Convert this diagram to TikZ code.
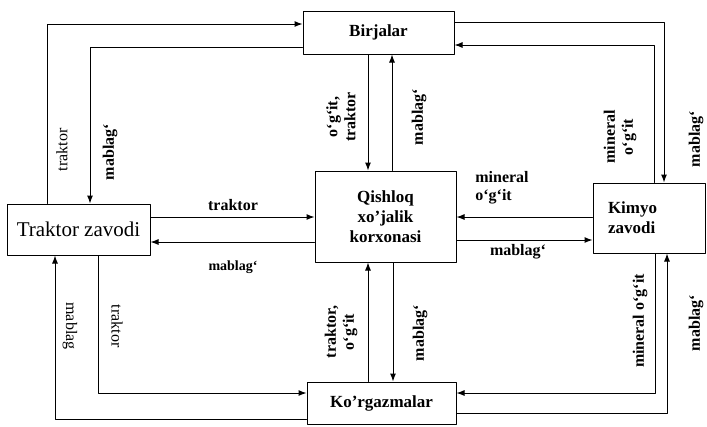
\documentclass[tikz,border=0pt]{standalone}
\usepackage{fontspec}
\setmainfont{Liberation Serif}
\usetikzlibrary{arrows.meta}
\begin{document}
\begin{tikzpicture}[x=1pt, y=-1pt, line cap=round, line join=round,
	box/.style={draw, line width=1pt, inner sep=0pt, font=\bfseries\fontsize{17}{20}\selectfont},
	arr/.style={line width=1pt, -{Latex[length=8pt,width=6pt]}},
	lbl/.style={font=\bfseries\fontsize{16}{18}\selectfont, inner sep=0pt, align=center},
	lbr/.style={font=\fontsize{16}{18}\selectfont, inner sep=0pt}]
	\useasboundingbox (0,0) rectangle (707,426);
	\node[box, minimum width=151pt, minimum height=43pt] (bir) at (378.5,32.5) {Birjalar};
	\node[box, minimum width=141pt, minimum height=91pt, align=center] (qsh) at (385.5,216.5) {Qishloq\\xo'jalik\\korxonasi};
	\node[box, minimum width=143pt, minimum height=51pt, font=\fontsize{21}{24}\selectfont] (trz) at (78.5,229.5) {Traktor zavodi};
	\node[box, text width=82pt, inner xsep=15pt, minimum height=70pt, align=left] (kim) at (649,218) {Kimyo\\zavodi};
	\node[box, minimum width=149pt, minimum height=42pt] (kor) at (381.5,403) {Ko'rgazmalar};

	\draw [arr] ([xshift=-31.5pt]trz.north) |- ([yshift=8.5pt]bir.west);
	\draw [arr] ([yshift=-14.5pt]bir.west) -| ([xshift=11.5pt]trz.north);
	\draw [arr] ([yshift=10.5pt]bir.east) -| ([xshift=15pt]kim.north);
	\draw [arr] ([xshift=5pt]kim.north) |- ([yshift=-12.5pt]bir.east);
	\draw [arr] ([xshift=-10.5pt]bir.south) -- ([xshift=-10.5pt]bir.south |- qsh.north);
	\draw [arr] ([xshift=13.5pt]bir.south |- qsh.north) -- ([xshift=13.5pt]bir.south);
	\draw [arr] ([yshift=12.5pt]trz.east) -- ([yshift=12.5pt]trz.east -| qsh.west);
	\draw [arr] ([yshift=-12.5pt]trz.east -| qsh.west) -- ([yshift=-12.5pt]trz.east);
	\draw [arr] ([yshift=1pt]kim.west) -- ([yshift=1pt]kim.west -| qsh.east);
	\draw [arr] ([yshift=-23.5pt]qsh.east) -- ([yshift=-23.5pt]qsh.east -| kim.west);
	\draw [arr] ([xshift=-13.5pt]kor.north) -- ([xshift=-13.5pt]kor.north |- qsh.south);
	\draw [arr] ([xshift=11.5pt]kor.north |- qsh.south) -- ([xshift=11.5pt]kor.north);
	\draw [arr] ([xshift=19.5pt]trz.south) |- ([yshift=10pt]kor.west);
	\draw [arr] ([yshift=-16pt]kor.west) -| ([xshift=-23.5pt]trz.south);
	\draw [arr] ([xshift=6pt]kim.south) |- ([yshift=10pt]kor.east);
	\draw [arr] ([yshift=-10pt]kor.east) -| ([xshift=18pt]kim.south);

	\node[lbr, rotate=90] (tr1) at (62,150) {traktor};
	\node[lbl, rotate=90] (mb1) at (110,152) {mablag`};
	\node[lbl, rotate=90] (og1) at (341,117) {o`g`it,\\traktor};
	\node[lbl, rotate=90] (mb2) at (419,117) {mablag`};
	\node[lbl, rotate=90] (mn1) at (620,137) {mineral\\o`g`it};
	\node[lbl, rotate=90] (mb3) at (696,139) {mablag`};
	\node[lbl] (tr2) at (233,205) {traktor};
	\node[lbl, font=\bfseries\fontsize{14}{16}\selectfont] (mb4) at (233,267) {mablag`};
	\node[lbl, align=left] (mn2) at (502,188) {mineral\\o`g`it};
	\node[lbl] (mb5) at (518,252) {mablag`};
	\node[lbr, rotate=-90] (mb6) at (70,326) {mablag};
	\node[lbr, rotate=-90] (tr3) at (117,326) {traktor};
	\node[lbl, rotate=90] (og2) at (341,332) {traktor,\\o`g`it};
	\node[lbl, rotate=90] (mb7) at (420,333) {mablag`};
	\node[lbl, rotate=90] (mn3) at (640,321) {mineral o`g`it};
	\node[lbl, rotate=90] (mb8) at (696,323) {mablag`};
\end{tikzpicture}
\end{document}
